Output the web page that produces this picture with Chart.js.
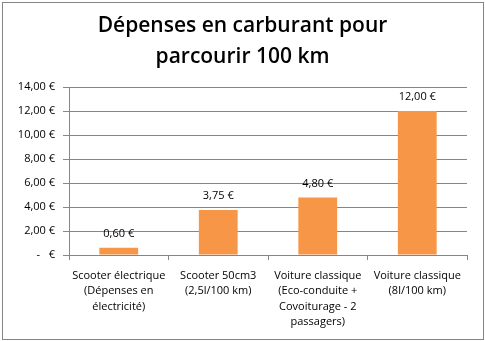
<!DOCTYPE html>
<html>
<head>
<meta charset="utf-8">
<script src="https://cdn.jsdelivr.net/npm/chart.js@4"></script>
<style>
  html, body { margin: 0; padding: 0; background: #fff; }
  canvas { display: block; }
</style>
</head>
<body>
<canvas id="fuelChart" width="485" height="341"></canvas>
<script>
// catégories (libellés sur plusieurs lignes) et coût pour 100 km
var categories = [
  ["Scooter électrique", "(Dépenses en", "électricité)"],
  ["Scooter 50cm3", "(2,5l/100 km)"],
  ["Voiture classique", "(Eco-conduite +", "Covoiturage - 2", "passagers)"],
  ["Voiture classique", "(8l/100 km)"]
];
var costs = [0.60, 3.75, 4.80, 12.00];
var yTicks = [0, 2, 4, 6, 8, 10, 12, 14];
var titleLines = ["Dépenses en carburant pour", "parcourir 100 km"];

var FONT = "'Open Sans', 'Liberation Sans', sans-serif";
var GRID = "#868686";

// format monétaire français : 3,75 €
function euro(v) {
  if (v === 0) return "-   €";
  return v.toFixed(2).replace(".", ",") + " €";
}

// cadre gris + titre centré sur toute la largeur
var framePlugin = {
  id: "frame",
  afterDraw: function (chart) {
    var ctx = chart.ctx;
    ctx.save();
    ctx.strokeStyle = "#848484";
    ctx.lineWidth = 1;
    ctx.strokeRect(2.5, 2.5, chart.width - 4, chart.height - 4);
    ctx.font = "600 21px " + FONT;
    ctx.fillStyle = "#000";
    ctx.textAlign = "center";
    ctx.textBaseline = "middle";
    ctx.fillText(titleLines[0], chart.width / 2, 26);
    ctx.fillText(titleLines[1], chart.width / 2, 57);
    ctx.restore();
  }
};

// valeurs au-dessus des barres
var valueLabels = {
  id: "valueLabels",
  afterDatasetsDraw: function (chart) {
    var ctx = chart.ctx;
    var meta = chart.getDatasetMeta(0);
    ctx.save();
    ctx.font = "11px " + FONT;
    ctx.fillStyle = "#000";
    ctx.textAlign = "center";
    ctx.textBaseline = "middle";
    meta.data.forEach(function (bar, i) {
      ctx.fillText(euro(costs[i]), bar.x, bar.y - 14);
    });
    ctx.restore();
  }
};

new Chart(document.getElementById("fuelChart"), {
  type: "bar",
  data: {
    labels: categories,
    datasets: [{
      data: costs,
      backgroundColor: "#F79646",
      borderWidth: 0,
      barPercentage: 0.78,
      categoryPercentage: 0.5
    }]
  },
  options: {
    responsive: false,
    animation: false,
    layout: { padding: { left: 0, right: 18, top: 87, bottom: 0 } },
    plugins: {
      legend: { display: false },
      tooltip: { enabled: false },
      title: { display: false }
    },
    scales: {
      x: {
        grid: {
          offset: true,
          drawOnChartArea: false,
          drawTicks: true,
          tickLength: 5,
          color: GRID
        },
        border: { display: true, color: GRID, width: 1 },
        ticks: {
          color: "#000",
          font: { family: FONT, size: 11, lineHeight: 1.4 },
          padding: 8,
          maxRotation: 0,
          autoSkip: false
        },
        afterFit: function (scale) { scale.height = 86; }
      },
      y: {
        min: 0,
        max: 14,
        afterBuildTicks: function (scale) {
          scale.ticks = yTicks.map(function (v) { return { value: v }; });
        },
        grid: { color: GRID, tickLength: 6, drawTicks: true },
        border: { display: true, color: GRID, width: 1 },
        ticks: {
          color: "#000",
          font: { family: FONT, size: 11 },
          padding: 8,
          callback: function (v) { return euro(v); }
        },
        afterFit: function (scale) { scale.width = 69; }
      }
    }
  },
  plugins: [framePlugin, valueLabels]
});
</script>
</body>
</html>
